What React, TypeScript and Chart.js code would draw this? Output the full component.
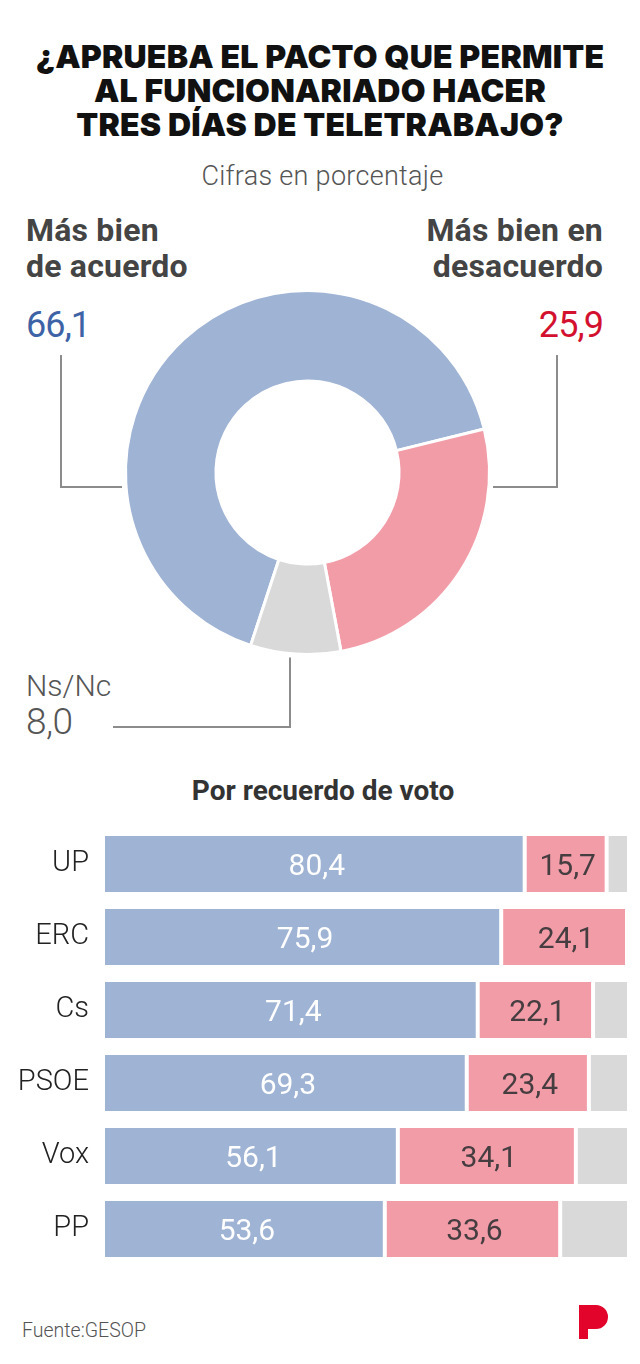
import React, { useEffect, useRef } from 'react';
import { Chart, registerables } from 'chart.js';

Chart.register(...registerables);

// ---- Data ----
const donutLabels = ['Más bien de acuerdo', 'Más bien en desacuerdo', 'Ns/Nc'];
const donutValues = [66.1, 25.9, 8.0];

const categories = ['UP', 'ERC', 'Cs', 'PSOE', 'Vox', 'PP'];
const acuerdo = [80.4, 75.9, 71.4, 69.3, 56.1, 53.6];
const desacuerdo = [15.7, 24.1, 22.1, 23.4, 34.1, 33.6];
const nsnc = [3.9, 0, 6.5, 7.3, 9.8, 12.8];

const BLUE = '#9fb3d4';
const PINK = '#f29ca8';
const GRAY = '#d9d9d9';
const FONT = 'Roboto, "Noto Sans", sans-serif';
const TITLE_FONT = 'Inter, Roboto, sans-serif';

const fmt = (v: number) => v.toFixed(1).replace('.', ',');

const leaderPlugin = {
  id: 'leaders',
  afterDraw(chart: any) {
    const arc: any = chart.getDatasetMeta(0).data[0];
    if (!arc) return;
    const { x, y, outerRadius } = arc;
    const ctx = chart.ctx;
    ctx.save();
    ctx.strokeStyle = '#8c8c8c';
    ctx.lineWidth = 2;
    const ly = y + 14.5;
    // left
    ctx.beginPath();
    ctx.moveTo(61, 155);
    ctx.lineTo(61, ly);
    ctx.lineTo(x - outerRadius - 3.5, ly);
    ctx.stroke();
    // right
    ctx.beginPath();
    ctx.moveTo(557, 155);
    ctx.lineTo(557, ly);
    ctx.lineTo(x + outerRadius + 3.5, ly);
    ctx.stroke();
    // bottom
    ctx.beginPath();
    ctx.moveTo(x - 17.5, y + outerRadius + 3);
    ctx.lineTo(x - 17.5, 527);
    ctx.lineTo(113, 527);
    ctx.stroke();
    ctx.restore();
  },
};

const valuePlugin = {
  id: 'values',
  afterDatasetsDraw(chart: any) {
    const ctx = chart.ctx;
    ctx.save();
    const F = 30;
    ctx.font = `400 ${F}px ${FONT}`;
    ctx.textAlign = 'center';
    ctx.textBaseline = 'alphabetic';
    [0, 1].forEach((di) => {
      const meta = chart.getDatasetMeta(di);
      const ds = chart.data.datasets[di];
      meta.data.forEach((bar: any, i: number) => {
        const v = ds.data[i] as number;
        ctx.fillStyle = di === 0 ? '#ffffff' : '#453d40';
        ctx.fillText(fmt(v), (bar.x + bar.base) / 2 + 2, bar.y + F * 0.355);
      });
    });
    ctx.restore();
  },
};

function Donut() {
  const ref = useRef<HTMLCanvasElement>(null);
  useEffect(() => {
    if (!ref.current) return;
    const chart = new Chart(ref.current, {
      type: 'doughnut',
      data: {
        labels: donutLabels,
        datasets: [
          {
            data: donutValues,
            backgroundColor: [BLUE, PINK, GRAY],
            borderColor: '#ffffff',
            borderWidth: 3,
            hoverOffset: 0,
            offset: 0,
          },
        ],
      },
      options: {
        responsive: false,
        animation: false,
        rotation: 198.2,
        cutout: '50.3%',
        layout: { padding: { left: 124, right: 149, top: 89, bottom: 104 } },
        plugins: { legend: { display: false }, tooltip: { enabled: false } },
        events: [],
      } as any,
      plugins: [leaderPlugin],
    });
    return () => chart.destroy();
  }, []);
  return (
    <canvas
      ref={ref}
      width={640}
      height={560}
      style={{ position: 'absolute', left: 0, top: 200, width: 640, height: 560 }}
    />
  );
}

function Bars() {
  const ref = useRef<HTMLCanvasElement>(null);
  useEffect(() => {
    if (!ref.current) return;
    const common = {
      borderColor: '#ffffff',
      borderSkipped: false,
      barPercentage: 1,
      categoryPercentage: 56 / 73,
    };
    const chart = new Chart(ref.current, {
      type: 'bar',
      data: {
        labels: categories,
        datasets: [
          {
            label: donutLabels[0],
            data: acuerdo,
            backgroundColor: BLUE,
            borderWidth: { left: 0, right: 2, top: 0, bottom: 0 },
            ...common,
          },
          {
            label: donutLabels[1],
            data: desacuerdo,
            backgroundColor: PINK,
            borderWidth: { left: 2, right: 2, top: 0, bottom: 0 },
            ...common,
          },
          {
            label: donutLabels[2],
            data: nsnc,
            backgroundColor: GRAY,
            borderWidth: { left: 2, right: 0, top: 0, bottom: 0 },
            ...common,
          },
        ],
      } as any,
      options: {
        indexAxis: 'y',
        responsive: false,
        animation: false,
        events: [],
        layout: { padding: { left: 0, right: 13, top: 7.5, bottom: 14.5 } },
        plugins: { legend: { display: false }, tooltip: { enabled: false } },
        scales: {
          x: { stacked: true, min: 0, max: 100, display: false },
          y: {
            stacked: true,
            grid: { display: false, drawTicks: false },
            border: { display: false },
            ticks: {
              padding: 16,
              color: '#222222',
              font: { family: FONT, size: 29, weight: '300' },
            },
            afterFit: (scale: any) => {
              scale.width = 105;
              scale.paddingTop = 0;
              scale.paddingBottom = 0;
            },
          },
        },
      } as any,
      plugins: [valuePlugin],
    });
    return () => chart.destroy();
  }, []);
  return (
    <canvas
      ref={ref}
      width={640}
      height={460}
      style={{ position: 'absolute', left: 0, top: 820, width: 640, height: 460 }}
    />
  );
}

const abs = (o: React.CSSProperties): React.CSSProperties => ({
  position: 'absolute',
  fontFamily: FONT,
  margin: 0,
  whiteSpace: 'nowrap',
  ...o,
});

export default function App() {
  return (
    <div
      style={{
        position: 'absolute',
        left: 0,
        top: 0,
        width: 640,
        height: 1364,
        background: '#ffffff',
        overflow: 'hidden',
      }}
    >
      <div
        style={abs({
          left: 0,
          top: 40,
          width: 640,
          textAlign: 'center',
          fontFamily: TITLE_FONT,
          fontSize: 32,
          lineHeight: '34px',
          fontWeight: 900,
          color: '#111111',
          letterSpacing: '0.2px',
        })}
      >
        ¿APRUEBA EL PACTO QUE PERMITE
        <br />
        AL FUNCIONARIADO HACER
        <br />
        TRES DÍAS DE TELETRABAJO?
      </div>
      <div
        style={abs({
          left: 0,
          top: 161,
          width: 645,
          textAlign: 'center',
          fontSize: 27,
          lineHeight: '30px',
          fontWeight: 300,
          color: '#555555',
          letterSpacing: '0.3px',
        })}
      >
        Cifras en porcentaje
      </div>

      <div
        style={abs({
          left: 26,
          top: 212,
          fontSize: 32,
          lineHeight: '36px',
          fontWeight: 700,
          color: '#444444',
          letterSpacing: '0.2px',
        })}
      >
        Más bien
        <br />
        de acuerdo
      </div>
      <div
        style={abs({
          left: 0,
          width: 603,
          top: 212,
          textAlign: 'right',
          fontSize: 32,
          lineHeight: '36px',
          fontWeight: 700,
          color: '#444444',
          letterSpacing: '0.2px',
        })}
      >
        Más bien en
        <br />
        desacuerdo
      </div>
      <div
        style={abs({
          left: 26,
          top: 307,
          fontSize: 36,
          lineHeight: '36px',
          fontWeight: 400,
          color: '#3d63a6',
          letterSpacing: '-0.9px',
        })}
      >
        {fmt(donutValues[0])}
      </div>
      <div
        style={abs({
          left: 0,
          width: 603,
          textAlign: 'right',
          top: 307,
          fontSize: 36,
          lineHeight: '36px',
          fontWeight: 400,
          color: '#d3112f',
          letterSpacing: '-0.9px',
        })}
      >
        {fmt(donutValues[1])}
      </div>
      <div style={abs({ left: 26, top: 671, fontSize: 30, lineHeight: '30px', fontWeight: 300, color: '#555555' })}>
        {donutLabels[2]}
      </div>
      <div
        style={abs({
          left: 26,
          top: 704,
          fontSize: 37,
          lineHeight: '36px',
          fontWeight: 300,
          color: '#555555',
          letterSpacing: '-0.5px',
        })}
      >
        {fmt(donutValues[2])}
      </div>

      <Donut />

      <div
        style={abs({
          left: 0,
          width: 646,
          top: 777,
          textAlign: 'center',
          fontSize: 28,
          lineHeight: '28px',
          fontWeight: 700,
          color: '#333333',
        })}
      >
        Por recuerdo de voto
      </div>

      <Bars />

      <div style={abs({ left: 22, top: 1321, fontSize: 19.5, lineHeight: '20px', fontWeight: 300, color: '#555555' })}>
        Fuente:GESOP
      </div>
      <svg
        width={30}
        height={34}
        viewBox="0 0 30 34"
        style={{ position: 'absolute', left: 579, top: 1305 }}
      >
        <path d="M0 0 H17 A12 12 0 0 1 17 24 H9 V34 H0 Z" fill="#e3042c" />
      </svg>
    </div>
  );
}
